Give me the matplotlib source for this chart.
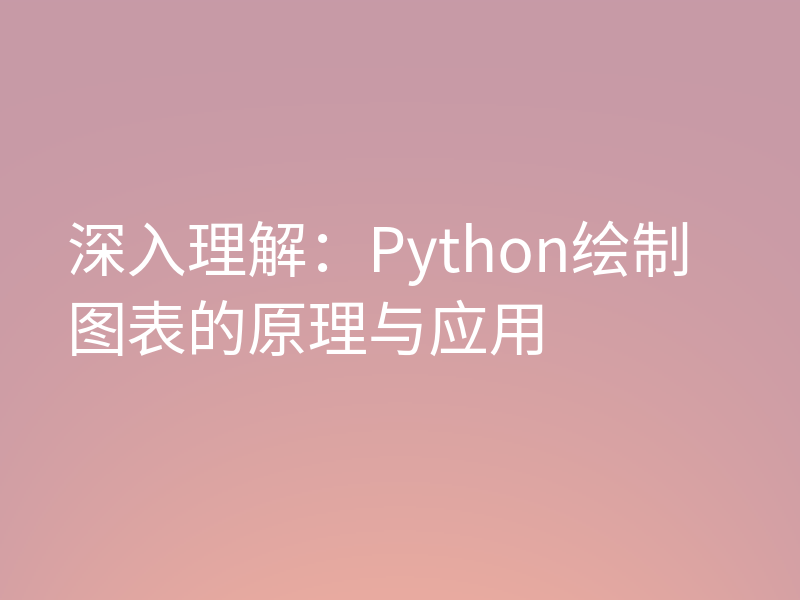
import numpy as np
import matplotlib
matplotlib.use("Agg")
import matplotlib.pyplot as plt

title_lines = ["深入理解：Python绘制", "图表的原理与应用"]
top_color = np.array([199, 154, 167]) / 255.0
bottom_center = np.array([233, 171, 160]) / 255.0
bottom_edge = np.array([214, 161, 164]) / 255.0

plt.rcParams['font.family'] = ['Noto Sans CJK SC', 'DejaVu Sans']

fig = plt.figure(figsize=(8, 6), dpi=100)
ax = fig.add_axes([0, 0, 1, 1])
ax.set_axis_off()

H, W = 300, 400
yy = np.linspace(0, 1, H)[:, None]
xx = np.linspace(-1, 1, W)[None, :]
t = yy ** 1.6
edge = np.abs(xx) ** 2
bottom = bottom_center[None, None, :] * (1 - edge[..., None]) + bottom_edge[None, None, :] * edge[..., None]
img = top_color[None, None, :] * (1 - t[..., None]) + bottom * t[..., None]
ax.imshow(img, extent=[0, 800, 600, 0], aspect='auto')
ax.set_xlim(0, 800)
ax.set_ylim(600, 0)

for i, line in enumerate(title_lines):
    ax.text(67, 253 + i * 81, line, color='white', fontsize=43.5,
            va='center', ha='left')

fig.savefig("out.png", dpi=100)
